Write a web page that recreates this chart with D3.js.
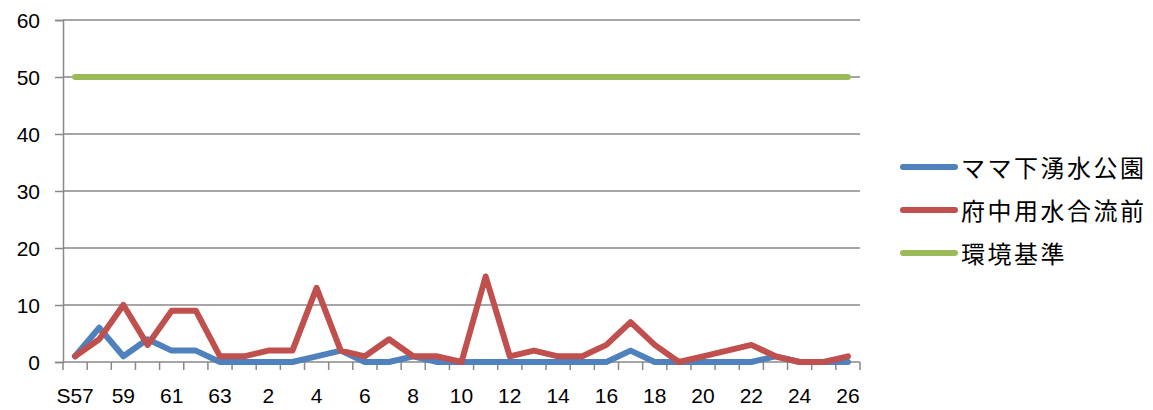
<!DOCTYPE html>
<html><head><meta charset="utf-8">
<script src="https://cdn.jsdelivr.net/npm/d3@7"></script>
<style>
html,body{margin:0;padding:0;background:#fff;}
svg text{font-family:"Liberation Sans",Arial,sans-serif;fill:#000;}
.leg text{font-family:"Noto Sans CJK JP",sans-serif;}
</style></head>
<body>
<svg id="c" width="1153" height="410"></svg>
<script>
// Fiscal years: Showa 57–63, then Heisei 1–26
const years = ["S57","58","59","60","61","62","63","1","2","3","4","5","6","7","8","9","10","11","12","13","14","15","16","17","18","19","20","21","22","23","24","25","26"];
const tickLabels = ["S57","59","61","63","2","4","6","8","10","12","14","16","18","20","22","24","26"];
const mamaShita = [1,6,1,4,2,2,0,0,0,0,1,2,0,0,1,0,0,0,0,0,0,0,0,2,0,0,0,0,0,1,0,0,0];
const fuchuYosui = [1,4,10,3,9,9,1,1,2,2,13,2,1,4,1,1,0,15,1,2,1,1,3,7,3,0,1,2,3,1,0,0,1];
const standard = years.map(() => 50);
const seriesNames = ["ママ下湧水公園","府中用水合流前","環境基準"];
const colors = ["#4F81BD","#C0504D","#9BBB59"];
const yTicks = [0,10,20,30,40,50,60];

const svg = d3.select("#c");
const plotLeft = 63, plotRight = 860, plotTop = 20, plotBottom = 362;

const x = d3.scaleBand().domain(years).range([plotLeft, plotRight]).padding(0);
const y = d3.scaleLinear().domain([0, 60]).range([plotBottom, plotTop]);

// horizontal gridlines
svg.append("g").selectAll("line").data(yTicks.filter(d => d > 0)).join("line")
  .attr("x1", plotLeft).attr("x2", plotRight)
  .attr("y1", d => y(d)).attr("y2", d => y(d))
  .attr("stroke", "#898989").attr("stroke-width", 1.5);

// y axis
const ya = svg.append("g").attr("transform", `translate(${plotLeft},0)`)
  .call(d3.axisLeft(y).tickValues(yTicks).tickSize(8).tickPadding(15));
ya.select(".domain").attr("stroke", "#898989").attr("stroke-width", 1.5);
ya.selectAll(".tick line").attr("stroke", "#898989").attr("stroke-width", 1.5);
ya.selectAll("text").style("font-size", "21px").attr("dy", "0.36em")
  .style("font-family", "'Liberation Sans',Arial,sans-serif").attr("fill", "#000");

// x axis: tick marks on category boundaries
const xa = svg.append("g");
xa.append("line").attr("x1", plotLeft).attr("x2", plotRight).attr("y1", plotBottom).attr("y2", plotBottom)
  .attr("stroke", "#898989").attr("stroke-width", 1.5);
const bounds = years.map(d => x(d)).concat([x(years[years.length - 1]) + x.bandwidth()]);
xa.selectAll("line.t").data(bounds).join("line").attr("class", "t")
  .attr("x1", d => d).attr("x2", d => d).attr("y1", plotBottom).attr("y2", plotBottom + 8)
  .attr("stroke", "#898989").attr("stroke-width", 1.5);
// labels on every other category
const labelled = years.filter((d, i) => i % 2 === 0);
xa.selectAll("text").data(labelled).join("text")
  .attr("x", d => x(d) + x.bandwidth() / 2).attr("y", 403)
  .attr("text-anchor", "middle").style("font-size", "21px")
  .text((d, i) => tickLabels[i]);

// series lines (blue first, then red over it, green on top)
const line = d3.line().x((d, i) => x(years[i]) + x.bandwidth() / 2).y(d => y(d));
[mamaShita, fuchuYosui, standard].forEach((s, k) => {
  svg.append("path").datum(s).attr("d", line)
    .attr("fill", "none").attr("stroke", colors[k]).attr("stroke-width", 6)
    .attr("stroke-linejoin", "round").attr("stroke-linecap", "round");
});

// legend
const lg = svg.append("g").attr("class", "leg");
seriesNames.forEach((n, k) => {
  const ly = 167 + k * 43;
  lg.append("line").attr("x1", 903).attr("x2", 955).attr("y1", ly).attr("y2", ly)
    .attr("stroke", colors[k]).attr("stroke-width", 6).attr("stroke-linecap", "round");
  lg.append("text").attr("x", 961).attr("y", ly + 1).attr("dy", "0.36em")
    .style("font-size", "24px").style("letter-spacing", "2.5px").text(n);
});
</script>
</body></html>
